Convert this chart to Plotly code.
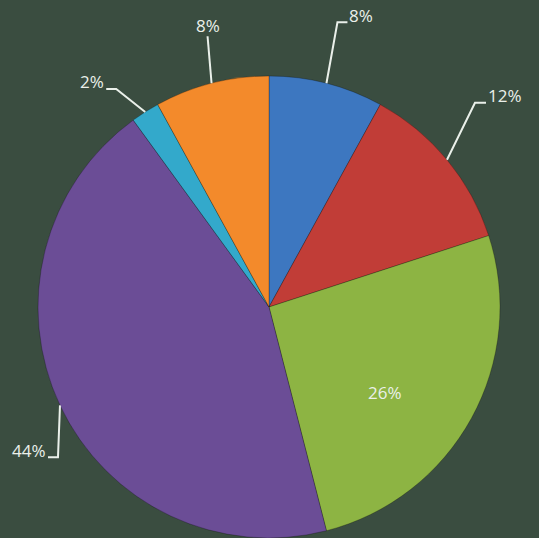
import math
import plotly.graph_objects as go

# ---- data ----
categories = ["Blue", "Red", "Green", "Purple", "Cyan", "Orange"]
values = [8, 12, 26, 44, 2, 8]
colors = ["#3d77c0", "#c13d37", "#8db443", "#6b4d96", "#33a9cb", "#f38a2b"]

W, H = 539, 538
BG = "#3a4d40"
TXT = "#eaf0ea"

# pie geometry (pixels)
cx, cy, R = 269, 307, 231

# label styling: (elbow offset from slice edge, tick length, text mode)
label_style = [
    dict(elbow=(11, -61), tick=10, kind="right"),
    dict(elbow=(28, -57), tick=11, kind="right"),
    dict(inside=(-86, -26)),
    dict(elbow=(-2, 52), tick=-10, kind="left"),
    dict(elbow=(-29, -23), tick=-10, kind="left"),
    dict(elbow=(-4, -47), tick=0, kind="top"),
]

def px(x):
    return x / W

def py(y):
    return 1 - y / H

fig = go.Figure()
fig.add_trace(go.Pie(
    labels=categories,
    values=values,
    sort=False,
    direction="clockwise",
    rotation=0,
    marker=dict(colors=colors, line=dict(color="rgba(0,0,0,0.25)", width=1)),
    textinfo="none",
    hoverinfo="label+percent",
    showlegend=False,
    domain=dict(x=[(cx - R) / W, (cx + R) / W], y=[py(cy + R), py(cy - R)]),
))

total = sum(values)
cum = 0
annotations = []
shapes = []
for v, st in zip(values, label_style):
    mid = (cum + v / 2) / total * 2 * math.pi
    cum += v
    ex = cx + R * math.sin(mid)
    ey = cy - R * math.cos(mid)
    text = f"{round(v / total * 100)}%"
    if "inside" in st:
        tx, ty = ex + st["inside"][0], ey + st["inside"][1]
        annotations.append(dict(x=px(tx), y=py(ty), xref="paper", yref="paper",
                                text=text, showarrow=False, xanchor="center", yanchor="middle"))
        continue
    bx, by = ex + st["elbow"][0], ey + st["elbow"][1]
    tx2 = bx + st["tick"]
    path = f"M {px(ex)} {py(ey)} L {px(bx)} {py(by)} L {px(tx2)} {py(by)}"
    shapes.append(dict(type="path", xref="paper", yref="paper", path=path,
                       line=dict(color=TXT, width=2)))
    if st["kind"] == "right":
        annotations.append(dict(x=px(tx2 + 1), y=py(by - 7), xref="paper", yref="paper",
                                text=text, showarrow=False, xanchor="left", yanchor="middle"))
    elif st["kind"] == "left":
        annotations.append(dict(x=px(tx2 - 1), y=py(by - 7), xref="paper", yref="paper",
                                text=text, showarrow=False, xanchor="right", yanchor="middle"))
    else:
        annotations.append(dict(x=px(bx), y=py(by - 11), xref="paper", yref="paper",
                                text=text, showarrow=False, xanchor="center", yanchor="middle"))

fig.update_layout(
    width=W, height=H,
    margin=dict(l=0, r=0, t=0, b=0),
    paper_bgcolor=BG, plot_bgcolor=BG,
    font=dict(family="Open Sans", size=17, color=TXT),
    annotations=annotations,
    shapes=shapes,
)
fig.update_annotations(font=dict(family="Open Sans", size=17, color=TXT), borderpad=0)

fig.write_html(
    "out.html",
    config={"displayModeBar": False},
    post_script="document.body.style.margin='0';document.body.style.overflow='hidden';document.body.style.background='" + BG + "';",
)
